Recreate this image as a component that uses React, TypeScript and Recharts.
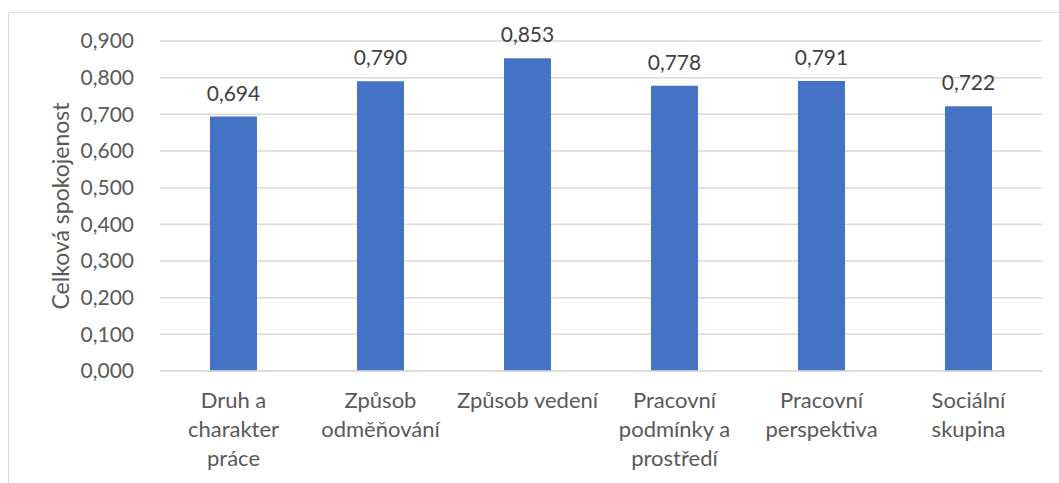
import React from "react";
import { BarChart, Bar, XAxis, YAxis, CartesianGrid, LabelList } from "recharts";

const categories = [
  "Druh a charakter práce",
  "Způsob odměňování",
  "Způsob vedení",
  "Pracovní podmínky a prostředí",
  "Pracovní perspektiva",
  "Sociální skupina",
];
const values = [0.694, 0.79, 0.853, 0.778, 0.791, 0.722];
const yTicks = [0, 0.1, 0.2, 0.3, 0.4, 0.5, 0.6, 0.7, 0.8, 0.9];
const yLabel = "Celková spokojenost";

const data = categories.map((c, i) => ({ name: c, value: values[i] }));

const FONT = "Lato, 'Open Sans', sans-serif";
const fmt = (v: number) => v.toFixed(3).replace(".", ",");

function wrap(text: string, maxChars: number): string[] {
  const words = text.split(" ");
  const lines: string[] = [];
  let cur = "";
  for (const w of words) {
    const next = cur ? cur + " " + w : w;
    if (next.length > maxChars && cur) {
      lines.push(cur);
      cur = w;
    } else {
      cur = next;
    }
  }
  if (cur) lines.push(cur);
  return lines;
}

const XTick = (props: any) => {
  const { x, y, payload } = props;
  const lines = wrap(payload.value, 13);
  return (
    <g transform={`translate(${x},${y})`}>
      {lines.map((l, i) => (
        <text
          key={i}
          x={0}
          y={i * 29}
          dy={29}
          textAnchor="middle"
          fill="#595959"
          fontSize={22}
          fontFamily={FONT}
        >
          {l}
        </text>
      ))}
    </g>
  );
};

export default function App() {
  return (
    <div style={{ position: "absolute", left: 0, top: 0, width: 1059, height: 483, background: "#fff" }}>
      <div
        style={{
          position: "absolute",
          left: 8,
          top: 12,
          width: 1060,
          height: 480,
          border: "1px solid #D9D9D9",
          boxSizing: "border-box",
        }}
      />
      <div style={{ position: "absolute", left: 0, top: 0 }}>
        <BarChart
          width={1059}
          height={483}
          data={data}
          margin={{ top: 41, right: 17, bottom: 0, left: 0 }}
          barCategoryGap="34%"
        >
          <CartesianGrid vertical={false} stroke="#D9D9D9" strokeWidth={1.5} />
          <XAxis
            dataKey="name"
            tick={<XTick />}
            tickLine={false}
            axisLine={{ stroke: "#D9D9D9", strokeWidth: 1.5 }}
            interval={0}
            height={112}
          />
          <YAxis
            width={160}
            domain={[0, 0.9]}
            ticks={yTicks}
            interval={0}
            tickFormatter={fmt}
            tickLine={false}
            axisLine={false}
            tickMargin={20}
            tick={{ fill: "#595959", fontSize: 21, fontFamily: FONT }}
            label={{
              value: yLabel,
              angle: -90,
              position: "insideLeft",
              offset: 61,
              style: { textAnchor: "middle", fill: "#595959", fontSize: 23, fontFamily: FONT },
            }}
          />
          <Bar dataKey="value" fill="#4472C4" isAnimationActive={false}>
            <LabelList
              dataKey="value"
              position="top"
              offset={16}
              formatter={(v: any) => fmt(Number(v))}
              style={{ fill: "#404040", fontSize: 21, fontFamily: FONT }}
            />
          </Bar>
        </BarChart>
      </div>
    </div>
  );
}
